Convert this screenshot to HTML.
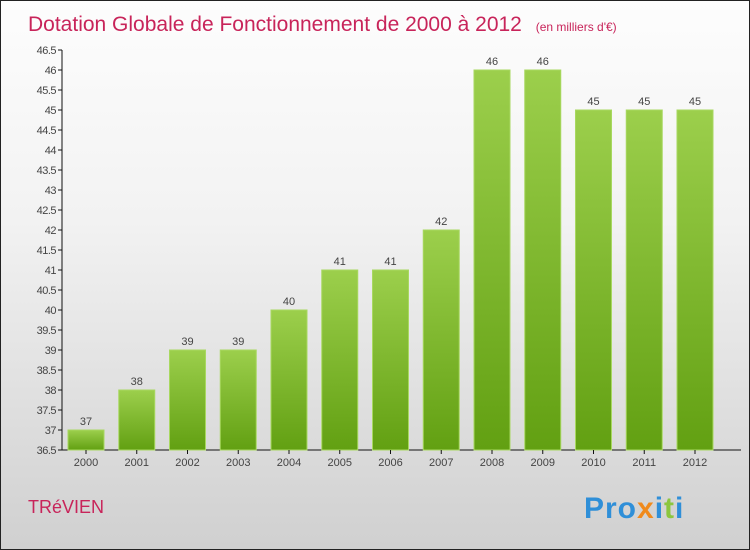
<!DOCTYPE html>
<html><head><meta charset="utf-8"><style>
body{margin:0}
#c{width:748px;height:548px;border:1px solid #222;background:linear-gradient(#fdfdfd,#f2f2f2 40%,#d0d0d0);position:relative;overflow:hidden;font-family:"Liberation Sans",sans-serif}
</style></head><body>
<div id="c">
<svg id="s" width="748" height="548">
<defs><linearGradient id="g" x1="0" y1="0" x2="0" y2="1"><stop offset="0" stop-color="#9ccf4c"/><stop offset="1" stop-color="#62a012"/></linearGradient></defs>
<text x="27" y="30" font-size="21" fill="#c8245a">Dotation Globale de Fonctionnement de 2000 à 2012 <tspan font-size="12" dx="8">(en milliers d'€)</tspan></text>
<text x="27" y="512" font-size="18" fill="#c8245a">TRéVIEN</text>
<text x="583" y="517" font-size="30" font-weight="bold" letter-spacing="1"><tspan fill="#2f8fd8">Pro</tspan><tspan fill="#f08a1c">x</tspan><tspan fill="#2f8fd8">i</tspan><tspan fill="#8cc63f">t</tspan><tspan fill="#2f8fd8">i</tspan></text>
<g id="plot"></g>
</svg></div>
<script>
const years=["2000","2001","2002","2003","2004","2005","2006","2007","2008","2009","2010","2011","2012"];
const values=[37,38,39,39,40,41,41,42,46,46,45,45,45];
const ticks=[36.5,37,37.5,38,38.5,39,39.5,40,40.5,41,41.5,42,42.5,43,43.5,44,44.5,45,45.5,46,46.5];
const ns="http://www.w3.org/2000/svg",p=document.getElementById('plot');
const y=v=>449-(v-36.5)*40, x=i=>85+i*50.75;
function mk(t,a,txt){const e=document.createElementNS(ns,t);for(const k in a)e.setAttribute(k,a[k]);if(txt!=null)e.textContent=txt;p.appendChild(e);return e;}
let e=mk('line',{x1:61,y1:y(46.5),x2:61,y2:449,stroke:'#111'});


e=mk('line',{x1:61,y1:449,x2:740,y2:449,stroke:'#111'});


ticks.forEach(t=>{
 mk('line',{x1:57,x2:61,y1:y(t),y2:y(t),stroke:'#111'});
 e=mk('text',{x:55,y:y(t)+4,'font-size':11,'text-anchor':'end',fill:'#444','letter-spacing':'-0.5'},String(t));
 
 
});
values.forEach((v,i)=>{
 const cx=x(i);
 e=mk('rect',{x:cx-18,y:y(v),width:36,height:449-y(v),fill:'url(#g)',stroke:'#a8d860','stroke-width':1});
 
 
 e=mk('text',{x:cx,y:y(v)-5,'font-size':11,'text-anchor':'middle',fill:'#444'},String(v));
 
 
 mk('line',{x1:cx,x2:cx,y1:449,y2:453,stroke:'#111'});
 e=mk('text',{x:cx,y:465,'font-size':11,'text-anchor':'middle',fill:'#444'},years[i]);
 
 
});
</script>
</body></html>
